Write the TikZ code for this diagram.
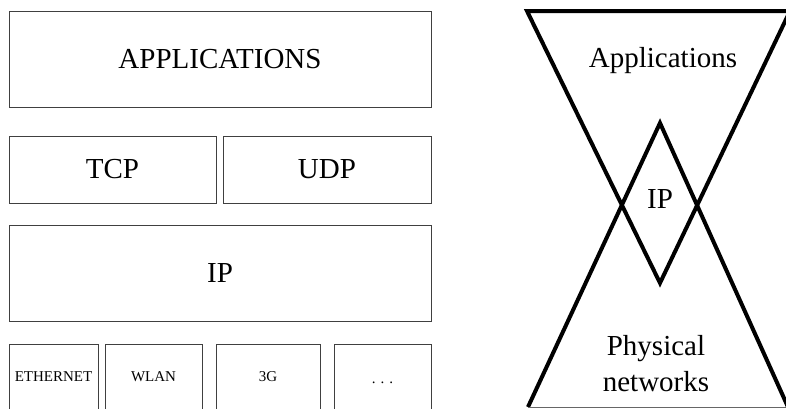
\documentclass[tikz,border=0pt]{standalone}
\usepackage{fontspec}
\setmainfont{Liberation Serif}
\begin{document}
\begin{tikzpicture}[x=0.75pt,y=-0.75pt,
    layer/.style={draw=black!75, line width=0.75pt, rectangle, inner sep=0pt,
      font=\fontsize{21.75}{27}\selectfont},
    link/.style={layer, minimum height=49.5pt, text height=7.4pt, text depth=0pt,
      font=\fontsize{11.25}{13}\selectfont},
    hourline/.style={line width=3pt}]
    \useasboundingbox (0,0) rectangle (786,408);
    \clip (0,0) rectangle (786,408);
    %protocol stack
    \node[layer, minimum width=316.5pt, minimum height=72pt] (apps) at (220,59) {APPLICATIONS};
    \node[layer, minimum width=155.25pt, minimum height=50.25pt] (tcp) at (112.5,169.5) {TCP};
    \node[layer, minimum width=156pt, minimum height=50.25pt] (udp) at (327,169.5) {UDP};
    \node[layer, minimum width=316.5pt, minimum height=72pt] (ip) at (220,273) {IP};
    %link layers
    \node[link, minimum width=66.75pt] (eth) at (53.5,377) {ETHERNET};
    \node[link, minimum width=72.75pt] (wlan) at (153.5,377) {WLAN};
    \node[link, minimum width=78pt] (threeg) at (268,377) {3G};
    \node[link, minimum width=72.75pt, text height=10pt] (more) at (382.5,377) {.\,\,.\,\,.};
    %hourglass
    \coordinate (tl) at (527,11);
    \coordinate (tr) at (790,11);
    \coordinate (tb) at (660,283);
    \coordinate (bt) at (660,123);
    \coordinate (bl) at (528,407);
    \coordinate (br) at (788,407);
    \draw[hourline] (tb) -- (tl) -- (tr) -- cycle;
    \draw[hourline] (bl) -- (bt) -- (br);
    \draw[black!60, line width=0.75pt] (bl) -- (br);
    %labels
    \node[font=\fontsize{21.75}{27}\selectfont] (apptxt) at (663,61) {Applications};
    \node[font=\fontsize{21.75}{27}\selectfont] (iptxt) at (660,199) {IP};
    \node[font=\fontsize{21.75}{27}\selectfont, align=center] (phys) at (656,364) {Physical\\networks};
\end{tikzpicture}
\end{document}
